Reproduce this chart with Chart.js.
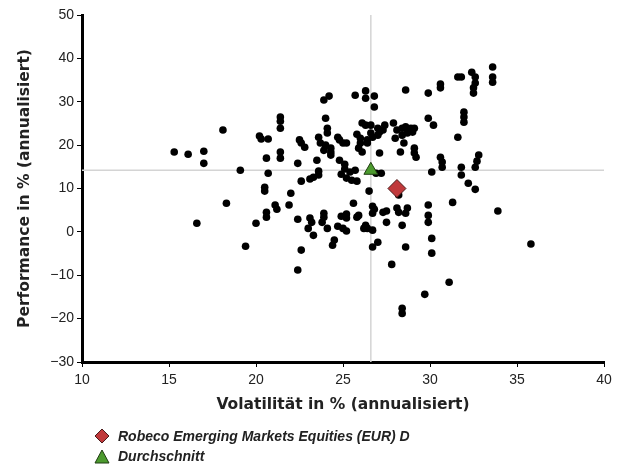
<!DOCTYPE html>
<html>
<head>
<meta charset="utf-8">
<script src="https://cdn.jsdelivr.net/npm/chart.js@4.4.1/dist/chart.umd.min.js"></script>
<style>
  body { margin: 0; background: #fff; }
  #wrap { position: relative; width: 625px; height: 464px; }
  #legend { position: absolute; left: 94px; top: 426px; font: italic bold 14px "Liberation Sans", Arial, sans-serif; color: #222; }
  #legend div { height: 20px; line-height: 20px; display: flex; align-items: center; }
  #legend svg { margin-right: 8px; }
</style>
</head>
<body>
<div id="wrap">
  <canvas id="myChart" width="625" height="464"></canvas>
  <div id="legend"></div>
</div>
<script>
// peer group funds: volatility (x) and performance (y)
var volatility = [
  15.3, 16.1, 17.0, 17.0, 18.1, 19.1, 20.2, 20.3, 20.7, 20.6, 20.7, 21.4, 21.4, 21.4, 21.4, 21.4, 22.4, 22.5, 22.6, 22.8,
  20.5, 20.5, 22.6, 23.1, 23.3, 22.0, 18.3, 21.1, 21.2, 21.9, 20.6, 20.6, 20.0, 16.6, 22.4, 19.4, 22.6, 22.4,
  23.1, 23.2, 23.0, 23.3, 23.9, 23.9, 23.8, 24.1, 24.9, 25.2, 25.2, 24.7, 25.0, 25.2, 25.6, 25.8, 25.9, 24.5, 24.4, 23.6, 23.6,
  26.5, 26.7, 26.8, 26.7, 26.3, 26.4, 26.7, 26.2, 27.0, 26.7, 27.3, 27.5, 28.1, 28.2, 28.7, 28.6, 28.2, 27.5, 28.4, 28.6,
  27.8, 28.4, 28.4, 29.7, 31.1, 29.9, 29.9, 29.9, 30.1, 30.1, 31.3, 33.9, 35.8, 30.1, 31.8, 32.2, 32.6, 31.8, 30.6, 30.7,
  30.7, 32.8, 32.7, 32.6,
  24.8, 25.1, 25.1, 25.4, 24.9, 25.2, 25.5, 25.8, 26.9, 27.2, 25.7,
  23.9, 24.2, 25.7, 26.3, 26.3, 26.8, 26.8, 28.6, 29.9, 30.6, 30.6, 31.6, 31.8, 32.4, 32.6, 32.6, 32.5, 32.5, 33.6, 33.6, 33.6,
  24.0, 24.1, 24.1, 23.6, 23.7, 24.0, 23.9, 24.3, 24.3, 24.3, 23.5, 24.7, 24.8, 25.0, 25.2, 25.8, 26.0, 26.0, 25.9, 26.1,
  26.1, 26.3, 26.6, 26.6, 26.7, 26.4, 26.4, 27.0, 27.0, 27.4, 27.3, 27.1, 27.1, 27.9, 28.1, 28.0, 28.4, 28.6, 28.9, 28.7,
  28.4, 28.5, 29.0, 29.1, 28.3, 29.1, 29.1, 29.2, 29.9, 30.2, 31.95, 31.95, 31.95, 31.6
];
var performance = [
  18.4, 17.9, 18.6, 15.8, 23.5, 14.2, 22.1, 21.4, 21.4, 17.0, 13.5, 26.5, 25.5, 23.9, 18.4, 17.0, 15.8, 21.2, 20.5, 19.5,
  10.3, 9.4, 11.7, 12.2, 12.6, 8.9, 6.6, 6.2, 5.2, 6.2, 4.5, 3.4, 2.0, 2.0, 2.9, -3.3, -4.2, -8.8,
  3.2, 2.2, 0.8, -0.8, 4.3, 3.4, 2.2, 0.8, 3.6, 4.1, 3.2, 1.3, 0.8, 0.2, 6.6, 3.4, 3.8, -1.9, -3.1, 13.1, 14.0,
  9.4, 5.9, 5.2, 4.3, 1.5, 0.8, 0.4, 0.8, -2.4, -3.5, 4.5, 4.8, 5.5, 4.5, 5.5, 4.3, 8.5, 2.2, 1.5, -3.5,
  -7.5, -17.6, -18.8, -14.4, -11.6, 6.2, 3.8, 2.2, -1.5, -4.9, 6.8, 4.8, -2.8, 13.8, 13.1, 11.2, 9.8, 14.9, 17.2, 16.1,
  14.9, 17.7, 16.3, 14.9,
  16.5, 15.6, 14.5, 13.8, 13.3, 12.4, 11.9, 11.7, 13.5, 13.5, 14.2,
  30.4, 31.3, 31.5, 32.5, 30.8, 31.3, 28.8, 32.7, 32.0, 34.1, 33.2, 35.7, 35.7, 36.8, 35.7, 34.3, 33.2, 32.0, 38.0, 35.7, 34.5,
  26.2, 23.9, 22.8, 21.8, 20.5, 20.0, 18.8, 19.3, 18.4, 17.7, 16.5, 21.8, 21.2, 20.5, 20.5, 22.5, 21.6, 20.5, 19.3, 18.4,
  25.1, 24.6, 24.6, 22.8, 21.8, 21.2, 20.5, 23.9, 22.3, 24.6, 23.5, 23.0, 18.2, 25.1, 23.5, 21.6, 23.9, 24.2, 23.9, 22.8,
  22.3, 20.5, 23.0, 23.9, 18.4, 19.3, 18.2, 17.2, 26.2, 24.6, 27.6, 26.5, 25.3, 21.8
];

var fundName = 'Robeco Emerging Markets Equities (EUR) D';
var fundVolatility = [28.1];
var fundPerformance = [10.0];

var avgName = 'Durchschnitt';
var avgVolatility = [26.6];
var avgPerformance = [14.2];

var xTicks = [10, 15, 20, 25, 30, 35, 40];
var yTicks = [-30, -20, -10, 0, 10, 20, 30, 40, 50];

var tickFont = '"Liberation Sans", Arial, sans-serif';
var titleFont = '"DejaVu Sans", sans-serif';
var red = '#c0393b';
var green = '#4c9a2e';

function toPoints(xs, ys) {
  return xs.map((x, i) => ({x: x, y: ys[i]}));
}

var xMin = xTicks[0], xMax = xTicks[xTicks.length - 1];
var yMin = yTicks[0], yMax = yTicks[yTicks.length - 1];

var ctx = document.getElementById('myChart').getContext('2d');
var myChart = new Chart(ctx, {
  type: 'scatter',
  data: {
    datasets: [
      {
        label: 'fund',
        data: toPoints(fundVolatility, fundPerformance),
        pointStyle: 'rectRot',
        pointRadius: 9,
        backgroundColor: red,
        borderColor: '#4a1a1a',
        borderWidth: 1,
        order: 0
      },
      {
        label: 'avg',
        data: toPoints(avgVolatility, avgPerformance),
        pointStyle: 'triangle',
        pointRadius: 8,
        backgroundColor: green,
        borderColor: '#1f3d12',
        borderWidth: 1,
        order: 1
      },
      {
        label: 'peers',
        data: toPoints(volatility, performance),
        pointRadius: 3.8,
        backgroundColor: '#000',
        borderColor: '#000',
        borderWidth: 0,
        order: 2
      },
      {
        type: 'line',
        label: 'avgV',
        data: [{x: avgVolatility[0], y: yMin}, {x: avgVolatility[0], y: yMax}],
        borderColor: '#d4d4d4',
        borderWidth: 1.5,
        pointRadius: 0,
        order: 3
      },
      {
        type: 'line',
        label: 'avgH',
        data: [{x: xMin, y: avgPerformance[0]}, {x: xMax, y: avgPerformance[0]}],
        borderColor: '#d4d4d4',
        borderWidth: 1.5,
        pointRadius: 0,
        order: 3
      }
    ]
  },
  options: {
    responsive: false,
    animation: false,
    layout: { padding: { left: 0, right: 21, top: 15, bottom: 50 } },
    plugins: { legend: { display: false }, tooltip: { enabled: false } },
    scales: {
      x: {
        type: 'linear',
        min: xMin, max: xMax,
        afterBuildTicks: s => { s.ticks = xTicks.map(v => ({value: v})); },
        afterFit: s => { s.height = 52; },
        grid: { drawOnChartArea: false, drawTicks: true, tickLength: 5, color: '#000', tickWidth: 1 },
        border: { display: true, color: '#000', width: 3 },
        ticks: { color: '#222', padding: 5, font: { family: tickFont, size: 14 } },
        title: { display: true, text: 'Volatilität in % (annualisiert)', color: '#222',
                 padding: { top: 0, bottom: 0 }, font: { family: titleFont, size: 15.5, weight: 'bold' } }
      },
      y: {
        type: 'linear',
        min: yMin, max: yMax,
        afterBuildTicks: s => { s.ticks = yTicks.map(v => ({value: v})); },
        afterFit: s => { s.width = 82; },
        grid: { drawOnChartArea: false, drawTicks: true, tickLength: 5, color: '#000', tickWidth: 1 },
        border: { display: true, color: '#000', width: 3 },
        ticks: { color: '#222', padding: 3, font: { family: tickFont, size: 14 },
                 callback: v => String(v).replace('-', '\u2212') },
        title: { display: true, text: 'Performance in % (annualisiert)', color: '#222',
                 padding: { top: 16, bottom: 0 }, font: { family: titleFont, size: 15.5, weight: 'bold' } }
      }
    }
  }
});

// legend below the chart, stacked like the original
var legend = document.getElementById('legend');
legend.innerHTML =
  '<div><svg width="16" height="16"><polygon points="8,1 15,8 8,15 1,8" fill="' + red + '" stroke="#4a1a1a"/></svg>' + fundName + '</div>' +
  '<div><svg width="16" height="16"><polygon points="8,2 15,15 1,15" fill="' + green + '" stroke="#1f3d12"/></svg>' + avgName + '</div>';
</script>
</body>
</html>
